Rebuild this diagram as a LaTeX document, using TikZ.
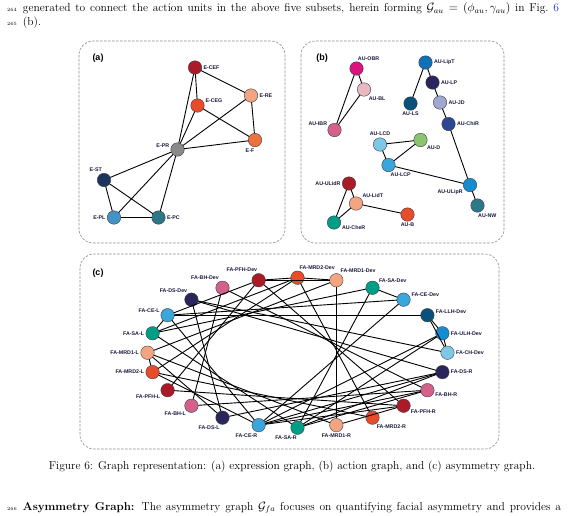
\documentclass[tikz,border=0pt]{standalone}
\usepackage{fontspec}
\usepackage{amsmath}
\newfontfamily\lblfont{Liberation Sans}
\definecolor{linkblue}{RGB}{40,40,230}
\definecolor{labtext}{RGB}{25,25,60}
\definecolor{cDkRed}{RGB}{172,26,40}
\definecolor{cSalmon}{RGB}{243,164,128}
\definecolor{cRedOr}{RGB}{232,76,42}
\definecolor{cOrange}{RGB}{238,114,62}
\definecolor{cGrey}{RGB}{138,138,138}
\definecolor{cNavy}{RGB}{28,52,95}
\definecolor{cMidBlue}{RGB}{67,147,198}
\definecolor{cTeal}{RGB}{44,120,136}
\definecolor{cMagenta}{RGB}{220,18,126}
\definecolor{cLtPink}{RGB}{234,184,192}
\definecolor{cPink}{RGB}{212,96,140}
\definecolor{cBlue}{RGB}{14,112,182}
\definecolor{cDkNavy}{RGB}{40,38,92}
\definecolor{cLavender}{RGB}{158,168,208}
\definecolor{cRoyal}{RGB}{46,70,150}
\definecolor{cDkTeal}{RGB}{10,80,125}
\definecolor{cLtBlue}{RGB}{126,200,230}
\definecolor{cGreen}{RGB}{140,195,110}
\definecolor{cSky}{RGB}{58,166,220}
\definecolor{cAzure}{RGB}{20,140,210}
\definecolor{cJade}{RGB}{0,158,135}

\begin{document}
\begin{tikzpicture}[x=1pt,y=-1pt,inner sep=0pt,outer sep=0pt,
vtx/.style={draw=black!75,line width=0.4pt,circle,minimum size=13.5pt},
lbl/.style={font=\lblfont\bfseries\fontsize{5.3}{6}\selectfont,text=labtext},
panel/.style={draw=black!45,line width=0.6pt,dash pattern=on 2.5pt off 1.5pt,rounded corners=14pt},
edge/.style={line width=0.9pt},
lineno/.style={font=\fontsize{4.8}{5}\selectfont,anchor=base east},
body/.style={font=\fontsize{11.5}{14}\selectfont,anchor=base west},
every label/.style={label distance=1.8pt}]

\useasboundingbox (0,0) rectangle (587,515);

% page text
\node[lineno] (n264) at (17,11.5) {264};
\node[body] (txt1) at (23,11.5) {\makebox[536pt][s]{generated to connect the action units in the above five subsets, herein forming $\mathcal{G}_{au}=(\phi_{au},\gamma_{au})$ in Fig.~\textcolor{linkblue}{6}}};
\node[lineno] (n265) at (17,25) {265};
\node[body] (txt2) at (23,25) {(b).};

% panel frames
\draw[panel] (79,41) rectangle (285,243);
\draw[panel] (301,41) rectangle (504,243);
\draw[panel] (80,254) rectangle (499,449);
\node[font=\lblfont\bfseries\fontsize{9}{10}\selectfont] (tagA) at (98,58) {(a)};
\node[font=\lblfont\bfseries\fontsize{9}{10}\selectfont] (tagB) at (322,58) {(b)};
\node[font=\lblfont\bfseries\fontsize{9}{10}\selectfont] (tagC) at (98,273) {(c)};

% (a) expression graph
\node[vtx,fill=cDkRed,label={[lbl]0:E-CEF}] (ecef) at (195,67.5) {};
\node[vtx,fill=cSalmon,label={[lbl]0:E-RE}] (ere) at (251,95.5) {};
\node[vtx,fill=cRedOr,label={[lbl]20:E-CEG}] (eceg) at (197.5,105.5) {};
\node[vtx,fill=cOrange,label={[lbl]-95:E-F}] (ef) at (255,140) {};
\node[vtx,fill=cGrey,label={[lbl]168:E-PR}] (epr) at (177.5,149.5) {};
\node[vtx,fill=cNavy,label={[lbl]105:E-ST}] (est) at (104,180) {};
\node[vtx,fill=cMidBlue,label={[lbl]180:E-PL}] (epl) at (114,217.5) {};
\node[vtx,fill=cTeal,label={[lbl]0:E-PC}] (epc) at (158.5,217.5) {};

\draw[edge] (ecef) -- (ere);
\draw[edge] (ecef) -- (eceg);
\draw[edge] (ecef) -- (epr);
\draw[edge] (eceg) -- (epr);
\draw[edge] (eceg) -- (ef);
\draw[edge] (ere) -- (ef);
\draw[edge] (ere) -- (epr);
\draw[edge] (ef) -- (epr);
\draw[edge] (epr) -- (est);
\draw[edge] (epr) -- (epl);
\draw[edge] (epr) -- (epc);
\draw[edge] (est) -- (epl);
\draw[edge] (est) -- (epc);
\draw[edge] (epl) -- (epc);

% (b) action graph
\node[vtx,fill=cMagenta,label={[lbl]80:AU-OBR}] (aobr) at (356.5,68.5) {};
\node[vtx,fill=cLtPink,label={[lbl]-55:AU-BL}] (abl) at (364,89.5) {};
\node[vtx,fill=cPink,label={[lbl]150:AU-IBR}] (aibr) at (334.5,130) {};
\node[vtx,fill=cBlue,label={[lbl]0:AU-LipT}] (alipt) at (425.5,62.5) {};
\node[vtx,fill=cDkNavy,label={[lbl]0:AU-LP}] (alp) at (432.5,82.5) {};
\node[vtx,fill=cLavender,label={[lbl]0:AU-JD}] (ajd) at (440,102.5) {};
\node[vtx,fill=cRoyal,label={[lbl]0:AU-ChiR}] (achir) at (448.5,124) {};
\node[vtx,fill=cDkTeal,label={[lbl]-90:AU-LS}] (als) at (410.5,103.5) {};
\node[vtx,fill=cLtBlue,label={[lbl]90:AU-LCD}] (alcd) at (380,144.5) {};
\node[vtx,fill=cGreen,label={[lbl]-40:AU-D}] (ad) at (420.5,140) {};
\node[vtx,fill=cSky,label={[lbl]-75:AU-LCP}] (alcp) at (388.5,165) {};
\node[vtx,fill=cAzure,label={[lbl]-150:AU-ULipR}] (aulipr) at (470,185) {};
\node[vtx,fill=cTeal,label={[lbl]-85:AU-NW}] (anw) at (477.5,205.5) {};
\node[vtx,fill=cDkRed,label={[lbl]180:AU-ULidR}] (aulidr) at (349,183.5) {};
\node[vtx,fill=cSalmon,label={[lbl]40:AU-LidT}] (alidt) at (356,203.5) {};
\node[vtx,fill=cJade,label={[lbl]-20:AU-CheR}] (acher) at (334,222.5) {};
\node[vtx,fill=cRedOr,label={[lbl]-90:AU-B}] (ab) at (407.5,214.5) {};

\draw[edge] (aobr) -- (abl);
\draw[edge] (aobr) -- (aibr);
\draw[edge] (abl) -- (aibr);
\draw[edge] (alipt) -- (als);
\draw[edge] (alipt) -- (alp);
\draw[edge] (alp) -- (ajd);
\draw[edge] (ajd) -- (achir);
\draw[edge] (achir) -- (aulipr);
\draw[edge] (aulipr) -- (anw);
\draw[edge] (alcd) -- (ad);
\draw[edge] (alcd) -- (alcp);
\draw[edge] (alcp) -- (ad);
\draw[edge] (alcp) -- (aulipr);
\draw[edge] (aulidr) -- (alidt);
\draw[edge] (aulidr) -- (acher);
\draw[edge] (alidt) -- (acher);
\draw[edge] (alidt) -- (ab);

% (c) asymmetry graph, nodes on an ellipse
\begin{scope}[shift={(297.5,352.7)}]
\node[vtx,fill=cLtBlue,label={[lbl]0:FA-CH-Dev}] (chD) at (0:150 and 75) {};
\node[vtx,fill=cAzure,label={[lbl]0:FA-ULH-Dev}] (ulhD) at (-15:150 and 75) {};
\node[vtx,fill=cDkTeal,label={[lbl]10:FA-LLH-Dev}] (llhD) at (-30:150 and 75) {};
\node[vtx,fill=cSky,label={[lbl]20:FA-CE-Dev}] (ceD) at (-45:150 and 75) {};
\node[vtx,fill=cJade,label={[lbl]40:FA-SA-Dev}] (saD) at (-60:150 and 75) {};
\node[vtx,fill=cSalmon,label={[lbl]60:FA-MRD1-Dev}] (m1D) at (-75:150 and 75) {};
\node[vtx,fill=cRedOr,label={[lbl]75:FA-MRD2-Dev}] (m2D) at (-90:150 and 75) {};
\node[vtx,fill=cDkRed,label={[lbl]100:FA-PFH-Dev}] (pfD) at (-105:150 and 75) {};
\node[vtx,fill=cPink,label={[lbl]115:FA-BH-Dev}] (bhD) at (-120:150 and 75) {};
\node[vtx,fill=cDkNavy,label={[lbl]120:FA-DS-Dev}] (dsD) at (-135:150 and 75) {};
\node[vtx,fill=cSky,label={[lbl]160:FA-CE-L}] (ceL) at (-150:150 and 75) {};
\node[vtx,fill=cJade,label={[lbl]180:FA-SA-L}] (saL) at (-165:150 and 75) {};
\node[vtx,fill=cSalmon,label={[lbl]180:FA-MRD1-L}] (m1L) at (180:150 and 75) {};
\node[vtx,fill=cRedOr,label={[lbl]180:FA-MRD2-L}] (m2L) at (165:150 and 75) {};
\node[vtx,fill=cDkRed,label={[lbl]-150:FA-PFH-L}] (pfL) at (150:150 and 75) {};
\node[vtx,fill=cPink,label={[lbl]-130:FA-BH-L}] (bhL) at (135:150 and 75) {};
\node[vtx,fill=cDkNavy,label={[lbl]-110:FA-DS-L}] (dsL) at (120:150 and 75) {};
\node[vtx,fill=cSky,label={[lbl]-100:FA-CE-R}] (ceR) at (105:150 and 75) {};
\node[vtx,fill=cJade,label={[lbl]-95:FA-SA-R}] (saR) at (90:150 and 75) {};
\node[vtx,fill=cSalmon,label={[lbl]-90:FA-MRD1-R}] (m1R) at (75:150 and 75) {};
\node[vtx,fill=cRedOr,label={[lbl]-60:FA-MRD2-R}] (m2R) at (60:150 and 75) {};
\node[vtx,fill=cDkRed,label={[lbl]-30:FA-PFH-R}] (pfR) at (45:150 and 75) {};
\node[vtx,fill=cPink,label={[lbl]-20:FA-BH-R}] (bhR) at (30:150 and 75) {};
\node[vtx,fill=cDkNavy,label={[lbl]0:FA-DS-R}] (dsR) at (15:150 and 75) {};
\end{scope}

\draw[edge] (pfD) -- (m2D);
\draw[edge] (m2D) -- (m1D);
\draw[edge] (pfD) -- (m1D);
\draw[edge] (llhD) -- (ulhD);
\draw[edge] (ulhD) -- (chD);
\draw[edge] (llhD) -- (chD);
\draw[edge] (saD) -- (ceD);
\draw[edge] (ceL) -- (saL);
\draw[edge] (m1L) -- (m2L);
\draw[edge] (ceL) -- (ceR);
\draw[edge] (saL) -- (saR);
\draw[edge] (m1L) -- (m1R);
\draw[edge] (m2L) -- (m2R);
\draw[edge] (pfL) -- (pfR);
\draw[edge] (bhL) -- (bhR);
\draw[edge] (dsL) -- (dsR);
\draw[edge] (ceD) -- (ceR);
\draw[edge] (saD) -- (saR);
\draw[edge] (m1D) -- (m1R);
\draw[edge] (m2D) -- (m2R);
\draw[edge] (pfD) -- (pfR);
\draw[edge] (bhD) -- (bhR);
\draw[edge] (dsD) -- (dsR);
\draw[edge] (ceD) -- (ceL);
\draw[edge] (saD) -- (saL);
\draw[edge] (m1D) -- (m1L);
\draw[edge] (m2D) -- (m2L);
\draw[edge] (pfD) -- (pfL);
\draw[edge] (bhD) -- (bhL);
\draw[edge] (dsD) -- (dsL);
\draw[edge] (ceL) -- (llhD);
\draw[edge] (dsD) -- (chD);
\draw[edge] (ulhD) -- (saR);
\draw[edge] (ulhD) -- (ceR);
\draw[edge] (dsR) -- (ceR);
\draw[edge] (dsR) -- (saR);
\draw[edge] (bhR) -- (ceR);
\draw[edge] (bhR) -- (saR);
\draw[edge] (pfR) -- (ceR);
\draw[edge] (pfR) -- (m1R);
\draw[edge] (m1L) -- (dsL);
\draw[edge] (m2L) -- (ceR);
\draw[edge] (saL) -- (m2D);
\draw[edge] (ceL) -- (pfD);

% caption and next paragraph
\node[body,anchor=base] (cap) at (292,469) {Figure 6: Graph representation: (a) expression graph, (b) action graph, and (c) asymmetry graph.};
\node[lineno] (n266) at (17,510) {266};
\node[body] (txt3) at (23,510) {\makebox[538pt][s]{\textbf{Asymmetry Graph:} The asymmetry graph $\mathcal{G}_{fa}$ focuses on quantifying facial asymmetry and provides a}};
\end{tikzpicture}
\end{document}
